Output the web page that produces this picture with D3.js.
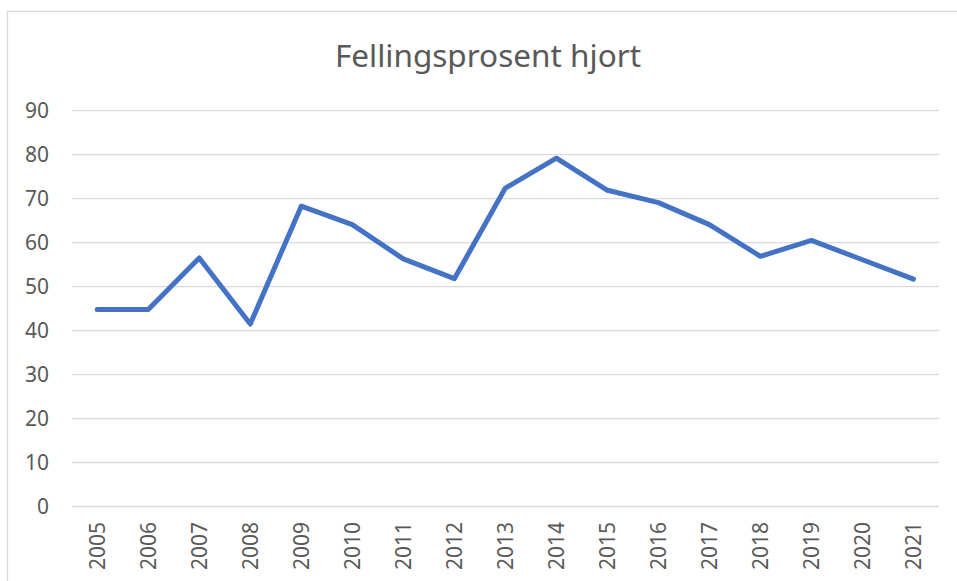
<!DOCTYPE html>
<html>
<head>
<meta charset="utf-8">
<script src="https://cdn.jsdelivr.net/npm/d3@7"></script>
<style>
  body { margin: 0; background: #fff; }
  svg { display: block; font-family: "Noto Sans", sans-serif; }
</style>
</head>
<body>
<div id="chart"></div>
<script>
// data
const years = ["2005", "2006", "2007", "2008", "2009", "2010", "2011", "2012", "2013",
               "2014", "2015", "2016", "2017", "2018", "2019", "2020", "2021"];
const values = [44.8, 44.8, 56.5, 41.5, 68.3, 64.1, 56.3, 51.8, 72.4,
                79.2, 71.9, 69.1, 64.1, 56.9, 60.5, 56.1, 51.7];
const yTicks = [0, 10, 20, 30, 40, 50, 60, 70, 80, 90];
const title = "Fellingsprosent hjort";

const width = 957, height = 581;
const margin = { top: 110.7, right: 18, bottom: 74.5, left: 71.7 };

const svg = d3.select("#chart").append("svg")
  .attr("width", width)
  .attr("height", height);

// chart border
svg.append("rect")
  .attr("x", 7.5).attr("y", 11.5)
  .attr("width", width).attr("height", height)
  .attr("fill", "none")
  .attr("stroke", "#d9d9d9")
  .attr("stroke-width", 1.3);

svg.append("text")
  .attr("x", 488).attr("y", 67)
  .attr("text-anchor", "middle")
  .attr("font-size", 31.5)
  .attr("fill", "#595959")
  .text(title);

const x = d3.scaleBand()
  .domain(years)
  .range([margin.left, width - margin.right]);

const y = d3.scaleLinear()
  .domain([0, 90])
  .range([height - margin.bottom, margin.top]);

// gridlines
svg.append("g")
  .selectAll("line")
  .data(yTicks)
  .join("line")
  .attr("x1", margin.left)
  .attr("x2", width - margin.right)
  .attr("y1", d => y(d))
  .attr("y2", d => y(d))
  .attr("stroke", "#d9d9d9")
  .attr("stroke-width", 1.3);

// y labels
svg.append("g")
  .selectAll("text")
  .data(yTicks)
  .join("text")
  .attr("x", 49)
  .attr("y", d => y(d))
  .attr("dy", "0.36em")
  .attr("text-anchor", "end")
  .attr("font-size", 21)
  .attr("fill", "#595959")
  .text(d => d);

// x labels, rotated
svg.append("g")
  .selectAll("text")
  .data(years)
  .join("text")
  .attr("transform", d => "translate(" + (x(d) + x.bandwidth() / 2) + ",522) rotate(-90)")
  .attr("dy", "0.36em")
  .attr("text-anchor", "end")
  .attr("font-size", 21)
  .attr("fill", "#595959")
  .text(d => d);

const line = d3.line()
  .x((d, i) => x(years[i]) + x.bandwidth() / 2)
  .y(d => y(d));

svg.append("path")
  .datum(values)
  .attr("d", line)
  .attr("fill", "none")
  .attr("stroke", "#4472c4")
  .attr("stroke-width", 5)
  .attr("stroke-linejoin", "round")
  .attr("stroke-linecap", "round");
</script>
</body>
</html>
